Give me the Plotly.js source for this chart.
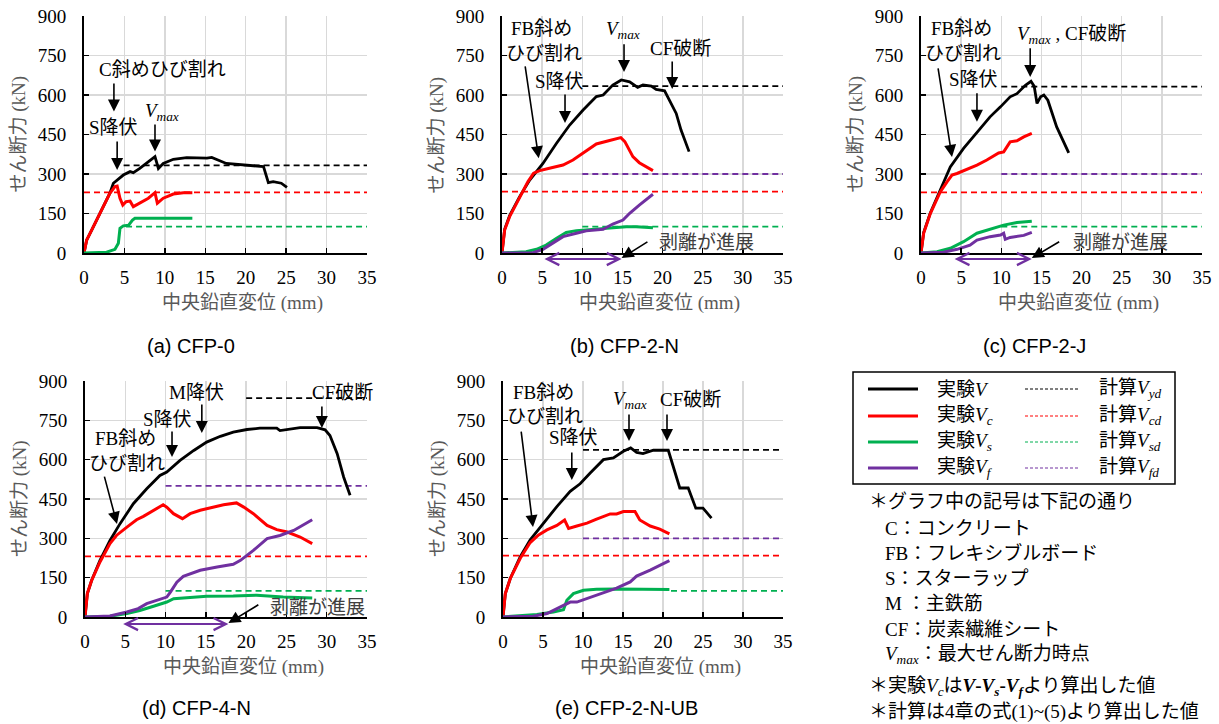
<!DOCTYPE html>
<html><head><meta charset="utf-8">
<script src="https://cdn.plot.ly/plotly-3.0.1.min.js"></script>
<style>html,body{margin:0;padding:0;background:#fff}</style>
</head><body><div id="chart" style="width:1219px;height:724px"></div>
<script>
// ---------------- DATA ----------------
const panelLabels = ['(a) CFP-0', '(b) CFP-2-N', '(c) CFP-2-J', '(d) CFP-4-N', '(e) CFP-2-N-UB'];
const xTicks = [0, 5, 10, 15, 20, 25, 30, 35];
const yTicks = [0, 150, 300, 450, 600, 750, 900];

// (a) CFP-0
const a_V_x  = [0,0.33,0.95,2,3.2,3.63,4.86,5.7,6.1,6.9,7.75,8.78,9.2,9.8,11.05,12.7,15.2,15.8,17.6,19.3,21.8,22.2,22.8,23.4,24.4,25.1];
const a_V_y  = [0,49,87,150,227,265,296,309,305,321,340,366,321,340,356,362,360,363,340,335,328,328,267,271,265,249];
const a_Vc_x = [0,0.33,0.95,2,3.2,3.83,4.1,4.45,4.8,5.2,5.7,6.1,6.9,7.96,8.78,9.07,9.8,11.05,12.3,13.4];
const a_Vc_y = [0,49,87,150,227,252,254,208,182,195,197,176,189,208,229,189,208,224,229,229];
const a_Vs_x = [0,2.8,3.83,4.25,4.45,4.86,5.5,6.0,6.3,13.4];
const a_Vs_y = [0,3,14,37,94,103,105,125,132,132];
const a_Vf_x = [];
const a_Vf_y = [];

// (b) CFP-2-N
const b_V_x  = [0,0.33,0.95,2.2,3.45,5.1,6.77,8.43,10.1,11.75,12.6,13.8,14.86,15.9,16.9,17.56,18.6,19.2,20.25,20.8,21.7,22.3,23.3];
const b_V_y  = [0,90,142,214,277,340,416,486,543,594,600,638,657,650,629,638,634,621,616,581,530,467,385];
const b_Vc_x = [0,0.33,0.95,2.2,3.24,3.94,4.7,5.9,7.6,8.84,10.1,11.75,13.4,14.8,15.3,16.3,17.1,17.97,18.8];
const b_Vc_y = [0,87,138,214,271,303,313,322,334,353,378,414,427,438,423,366,343,328,313];
const b_Vs_x = [0,3,4.3,5.5,6.8,8.0,9.26,11.3,13.4,15.5,16.7,18.8];
const b_Vs_y = [0,5,14,30,56,78,85,90,94,100,100,96];
const b_Vf_x = [0,3.86,5.1,6.35,7.6,9.26,10.5,12.6,13.8,15.07,15.9,17.1,18.8];
const b_Vf_y = [0,1,14,39,62,75,84,90,110,125,151,182,223];

// (c) CFP-2-J
const c_V_x  = [0,0.33,1.16,2.4,3.65,5.3,6.97,8.6,9.9,11.1,11.95,13,13.7,14.1,14.45,14.9,15.3,15.8,16.9,17.8,18.4];
const c_V_y  = [0,78,152,238,327,397,460,517,555,593,605,637,652,633,568,593,600,580,479,416,380];
const c_Vc_x = [0,0.33,1.16,2.4,3.24,3.86,4.48,5.7,6.97,8.2,9.67,10.3,11.1,11.95,12.8,13.8];
const c_Vc_y = [0,75,150,232,270,296,302,317,334,353,380,384,422,426,441,454];
const c_Vs_x = [0,2,3.65,5.3,6.97,8.6,10.3,11.95,13.8];
const c_Vs_y = [0,5,18,43,75,90,106,116,121];
const c_Vf_x = [0,2.8,4.5,6.1,6.97,8.6,9.9,10.3,10.5,11.1,12.8,13.8];
const c_Vf_y = [0,3,14,30,49,62,68,75,52,59,67,78];

// (d) CFP-4-N
const d_V_x  = [0,0.29,0.83,1.86,3.1,4.35,6.0,7.66,9.3,10.15,11.8,13.5,15.1,16.8,18.4,20.1,21.7,23.8,24.2,25.1,26.7,28.8,29.8,30.4,31.3,32.1,32.9];
const d_V_y  = [0,89,140,216,292,356,432,489,540,553,597,635,667,689,705,715,720,720,711,714,722,722,714,692,623,534,464];
const d_Vc_x = [0,0.29,0.83,1.86,3.1,3.9,5.2,6.4,7.25,8.5,9.7,10.15,10.98,12.1,13.05,14.3,15.9,17.2,18.8,19.7,20.9,22.6,23.8,25.1,26.7,28.2];
const d_Vc_y = [0,89,140,210,280,311,343,371,384,407,428,419,394,375,394,407,419,428,435,419,394,349,333,324,305,280];
const d_Vs_x = [0,3.1,5.2,6.8,8.5,10.15,11,12.6,15.1,18.4,21.3,24.6,28.2];
const d_Vs_y = [0,3,13,25,41,57,70,74,79,80,83,76,72];
const d_Vf_x = [0,3.1,5.2,6.6,7.66,9.3,10.15,10.6,11.4,12.2,14.3,16.4,18.4,19.3,20.9,22.6,24.2,25.9,28.2];
const d_Vf_y = [0,4,19,32,51,66,76,95,133,155,178,191,201,216,254,299,311,330,371];

// (e) CFP-2-N-UB
const e_V_x  = [0,0.29,0.91,2.16,3.4,5.07,6.73,8.4,9.64,10.9,12.55,13.8,15.05,15.96,16.7,17.5,18.8,20.66,21.3,22.1,23.15,24.1,25,26.06];
const e_V_y  = [0,89,147,230,294,358,421,479,508,549,600,607,632,645,628,623,636,636,575,492,492,415,415,377];
const e_Vc_x = [0,0.29,0.91,2.16,3.4,4.45,5.49,6.73,7.7,8.2,9.23,10.5,11.7,13.4,14.2,15.05,16.5,17.1,18.4,19.6,20.8];
const e_Vc_y = [0,89,147,224,284,313,332,349,370,338,347,358,373,393,393,402,402,370,347,335,317];
const e_Vs_x = [0,4.24,6.3,7.56,7.98,8.8,10.06,11.7,14.2,17.5,20.8];
const e_Vs_y = [0,10,19,28,64,89,102,106,107,106,105];
const e_Vf_x = [0,3.8,5.5,7.15,8.4,9.23,10.9,12.55,14.2,15.9,16.7,18.4,20.8];
const e_Vf_y = [0,3,13,38,57,57,74,92,110,134,156,179,215];

// calculated values (kN) [Vyd, Vcd, Vsd, Vfd] and the displacement where each dashed line starts
const a_calc = [333, 230, 100, null];  const a_calcFrom = [4.9, 0, 5.2, null];
const b_calc = [634, 233, 100, 300];   const b_calcFrom = [10, 0, 10, 10];
const c_calc = [632, 230, 100, 300];   const c_calcFrom = [10, 0, 10, 10];
const d_calc = [835, 231, 100, 500];   const d_calcFrom = [20, 0, 10, 10];
const e_calc = [637, 234, 100, 300];   const e_calcFrom = [10, 0, 21, 10];
const calcEnd = 35;

// ---------------- BUILD ----------------
const W = 1219, H = 724;
const SERIF = "Liberation Serif, Noto Sans CJK JP, serif";
const TICKFONT = "Liberation Serif, Times New Roman, serif";
const SANS = "Liberation Sans, Arial, sans-serif";
const COLORS = ['#000000', '#ff0000', '#00b050', '#7030a0'];
const YMAX = 900;

const panels = [
  {exp: [[a_V_x,a_V_y],[a_Vc_x,a_Vc_y],[a_Vs_x,a_Vs_y],[a_Vf_x,a_Vf_y]], calc: a_calc, from: a_calcFrom},
  {exp: [[b_V_x,b_V_y],[b_Vc_x,b_Vc_y],[b_Vs_x,b_Vs_y],[b_Vf_x,b_Vf_y]], calc: b_calc, from: b_calcFrom},
  {exp: [[c_V_x,c_V_y],[c_Vc_x,c_Vc_y],[c_Vs_x,c_Vs_y],[c_Vf_x,c_Vf_y]], calc: c_calc, from: c_calcFrom},
  {exp: [[d_V_x,d_V_y],[d_Vc_x,d_Vc_y],[d_Vs_x,d_Vs_y],[d_Vf_x,d_Vf_y]], calc: d_calc, from: d_calcFrom},
  {exp: [[e_V_x,e_V_y],[e_Vc_x,e_Vc_y],[e_Vs_x,e_Vs_y],[e_Vf_x,e_Vf_y]], calc: e_calc, from: e_calcFrom}
];

// pixel boxes of the plot areas
const boxes = [
  {x0:84,  x1:367,  y0:16,  y1:253},
  {x0:502, x1:783,  y0:16,  y1:253},
  {x0:921, x1:1202, y0:16,  y1:253},
  {x0:85,  x1:367,  y0:381, y1:617},
  {x0:503, x1:783,  y0:381, y1:617}
];

const traces = [];
const layout = {
  width: W, height: H,
  margin: {l:0, r:0, t:0, b:0},
  paper_bgcolor: '#fff', plot_bgcolor: '#fff',
  showlegend: false,
  annotations: [], shapes: []
};

const sfx = i => (i === 0 ? '' : String(i + 1));

panels.forEach((p, i) => {
  const xa = 'x' + sfx(i), ya = 'y' + sfx(i);
  p.calc.forEach((v, k) => {
    if (v === null) return;
    traces.push({x: [p.from[k], calcEnd], y: [v, v], xaxis: xa, yaxis: ya, mode: 'lines',
      line: {color: COLORS[k], width: 1.8, dash: '6px,4px'}, hoverinfo: 'skip'});
  });
  p.exp.forEach((s, k) => {
    if (!s[0].length) return;
    traces.push({x: s[0], y: s[1], xaxis: xa, yaxis: ya, mode: 'lines',
      line: {color: COLORS[k], width: k === 0 ? 2.8 : 3, shape: 'linear'}, hoverinfo: 'skip'});
  });
  const b = boxes[i];
  const common = {
    showgrid: true, gridcolor: '#d9d9d9', gridwidth: 1.3,
    showline: true, linecolor: '#000', linewidth: 2,
    ticks: 'inside', ticklen: 5, tickwidth: 1.5, tickcolor: '#000',
    zeroline: false, fixedrange: true, tickmode: 'array'
  };
  layout['xaxis' + sfx(i)] = Object.assign({}, common, {
    domain: [b.x0 / W, b.x1 / W], anchor: ya, range: [0, 35],
    tickvals: xTicks, ticktext: xTicks.map(String), ticklabelstandoff: 6,
    tickfont: {family: TICKFONT, size: 19, color: '#000'}
  });
  layout['yaxis' + sfx(i)] = Object.assign({}, common, {
    domain: [1 - b.y1 / H, 1 - b.y0 / H], anchor: xa, range: [0, YMAX],
    tickvals: yTicks, ticktext: yTicks.map(String), ticklabelstandoff: 12,
    tickfont: {family: TICKFONT, size: 19, color: '#000'}
  });
  layout.annotations.push({xref: 'paper', yref: 'paper', x: ((b.x0 + b.x1) / 2 + 17) / W, y: 1 - (b.y1 + 50) / H,
    text: '中央鉛直変位 (mm)', showarrow: false, xanchor: 'center', yanchor: 'middle',
    font: {family: SERIF, size: 19, color: '#595959'}});
  layout.annotations.push({xref: 'paper', yref: 'paper', x: (b.x0 - 65) / W, y: 1 - ((b.y0 + b.y1) / 2) / H,
    text: 'せん断力 (kN)', showarrow: false, textangle: -90, xanchor: 'center', yanchor: 'middle',
    font: {family: SERIF, size: 19, color: '#595959'}});
});

const capPos = [[191, 346], [624, 346], [1034, 346], [196, 708], [627, 708]];
panelLabels.forEach((t, i) => {
  layout.annotations.push({xref: 'paper', yref: 'paper', x: capPos[i][0] / W, y: 1 - capPos[i][1] / H,
    text: t, showarrow: false, xanchor: 'center', yanchor: 'middle',
    font: {family: SANS, size: 20, color: '#000'}});
});

const VMAX = '<i>V</i><sub><i>max</i></sub>';
function label(i, x, y, text, color) {
  layout.annotations.push({xref: 'x' + sfx(i), yref: 'y' + sfx(i) + ' domain', x, y: y / YMAX, text, showarrow: false,
    xanchor: 'center', yanchor: 'middle', font: {family: SERIF, size: 19, color: color || '#000'}});
}
function arrow(i, x, y, ax, ay) {
  const yr = 'y' + sfx(i) + ' domain';
  layout.annotations.push({xref: 'x' + sfx(i), yref: yr, axref: 'x' + sfx(i), ayref: yr,
    x, y: y / YMAX, ax, ay: ay / YMAX, text: '', showarrow: true, arrowhead: 2, arrowsize: 1.5, arrowwidth: 1.6,
    arrowcolor: '#000', standoff: 0, startstandoff: 0});
}
function dbl(i, xa, xb, y) {
  const yr = 'y' + sfx(i) + ' domain';
  layout.annotations.push({xref: 'x' + sfx(i), yref: yr, axref: 'x' + sfx(i), ayref: yr,
    x: xb, y: y / YMAX, ax: xa, ay: y / YMAX, text: '', showarrow: true, arrowside: 'end+start',
    arrowhead: 5, startarrowhead: 5, arrowsize: 1.2, startarrowsize: 1.2, arrowwidth: 2,
    arrowcolor: '#7030a0', standoff: 0, startstandoff: 0});
}

// (a)
label(0, 9.65, 695, 'C斜めひび割れ');
arrow(0, 3.7, 537, 3.7, 649);
label(0, 3.59, 475, 'S降伏');
arrow(0, 4.1, 315, 4.1, 429);
label(0, 9.65, 535, VMAX);
arrow(0, 8.78, 385, 8.78, 494);
// (b)
label(1, 4.98, 853, 'FB斜め');
label(1, 5.2, 759, 'ひび割れ');
arrow(1, 4.57, 360, 2.86, 714);
label(1, 7.22, 650, 'S降伏');
arrow(1, 7.85, 494, 7.85, 608);
label(1, 15.07, 847, VMAX);
arrow(1, 15.2, 687, 15.2, 798);
label(1, 22.2, 775, 'CF破断');
arrow(1, 21.2, 623, 21.2, 733);
label(1, 25.5, 38, '剥離が進展', '#404040');
arrow(1, 14.9, -19, 18.3, 46);
dbl(1, 5.1, 14.9, -23);
// (c)
label(2, 5.1, 853, 'FB斜め');
label(2, 5.2, 759, 'ひび割れ');
arrow(2, 3.86, 365, 2.1, 707);
label(2, 6.5, 657, 'S降伏');
arrow(2, 6.97, 498, 6.97, 612);
label(2, 18.8, 828, VMAX + ' , CF破断');
arrow(2, 13.6, 668, 13.6, 783);
label(2, 24.8, 38, '剥離が進展', '#404040');
arrow(2, 13.8, -19, 17.4, 46);
dbl(2, 4.0, 13.8, -23);
// (d)
label(3, 13.9, 858, 'M降伏');
arrow(3, 14.5, 702, 14.5, 816);
label(3, 10.2, 755, 'S降伏');
arrow(3, 10.8, 610, 10.8, 713);
label(3, 5.0, 679, 'FB斜め');
label(3, 5.2, 587, 'ひび割れ');
arrow(3, 3.97, 355, 2.36, 541);
label(3, 32.0, 858, 'CF破断');
arrow(3, 29.4, 721, 29.4, 808);
label(3, 28.8, 38, '剥離が進展', '#404040');
arrow(3, 17.8, -23, 21.7, 50);
dbl(3, 4.55, 17.8, -27);
// (e)
label(4, 5.0, 858, 'FB斜め');
label(4, 5.25, 763, 'ひび割れ');
arrow(4, 3.75, 343, 2.25, 713);
label(4, 8.75, 683, 'S降伏');
arrow(4, 8.6, 522, 8.6, 633);
label(4, 15.9, 828, VMAX);
arrow(4, 15.75, 671, 15.75, 778);
label(4, 23.4, 828, 'CF破断');
arrow(4, 20.5, 671, 20.5, 778);

// ---------------- LEGEND BOX (manual, two columns) ----------------
const legSolid = ['実験<i>V</i>', '実験<i>V</i><sub><i>c</i></sub>', '実験<i>V</i><sub><i>s</i></sub>', '実験<i>V</i><sub><i>f</i></sub>'];
const legDash = ['計算<i>V</i><sub><i>yd</i></sub>', '計算<i>V</i><sub><i>cd</i></sub>', '計算<i>V</i><sub><i>sd</i></sub>', '計算<i>V</i><sub><i>fd</i></sub>'];
const px = v => v / W, py = v => 1 - v / H;
layout.shapes.push({type: 'rect', xref: 'paper', yref: 'paper', x0: px(853), x1: px(1175), y0: py(484), y1: py(372),
  line: {color: '#000', width: 1.5}, fillcolor: 'rgba(0,0,0,0)'});
const rowY = [389, 416, 442, 468];
rowY.forEach((ry, k) => {
  layout.shapes.push({type: 'line', xref: 'paper', yref: 'paper', x0: px(868), x1: px(918), y0: py(ry), y1: py(ry),
    line: {color: COLORS[k], width: 3}});
  layout.shapes.push({type: 'line', xref: 'paper', yref: 'paper', x0: px(1025), x1: px(1080), y0: py(ry), y1: py(ry),
    line: {color: COLORS[k], width: 1, dash: '3px,2px'}});
  layout.annotations.push({xref: 'paper', yref: 'paper', x: px(935), y: py(ry), text: legSolid[k], showarrow: false,
    xanchor: 'left', yanchor: 'middle', font: {family: SERIF, size: 19, color: '#000'}});
  layout.annotations.push({xref: 'paper', yref: 'paper', x: px(1097), y: py(ry), text: legDash[k], showarrow: false,
    xanchor: 'left', yanchor: 'middle', font: {family: SERIF, size: 19, color: '#000'}});
});

const notes = [
  [867, 502, '＊グラフ中の記号は下記の通り'],
  [883, 528, 'C：コンクリート'],
  [883, 553, 'FB：フレキシブルボード'],
  [883, 578, 'S：スターラップ'],
  [883, 603, 'M ：主鉄筋'],
  [883, 629, 'CF：炭素繊維シート'],
  [883, 655, '<i>V</i><sub><i>max</i></sub>：最大せん断力時点'],
  [867, 687, '＊実験<i>V</i><sub><i>c</i></sub>は<b><i>V</i>-<i>V</i><sub><i>s</i></sub>-<i>V</i><sub><i>f</i></sub></b>より算出した値'],
  [867, 712, '＊計算は4章の式(1)~(5)より算出した値']
];
notes.forEach(n => {
  layout.annotations.push({xref: 'paper', yref: 'paper', x: px(n[0]), y: py(n[1]), text: n[2], showarrow: false,
    xanchor: 'left', yanchor: 'middle', font: {family: SERIF, size: 19, color: '#000'}});
});

Plotly.newPlot('chart', traces, layout, {staticPlot: true, displayModeBar: false});
</script></body></html>
